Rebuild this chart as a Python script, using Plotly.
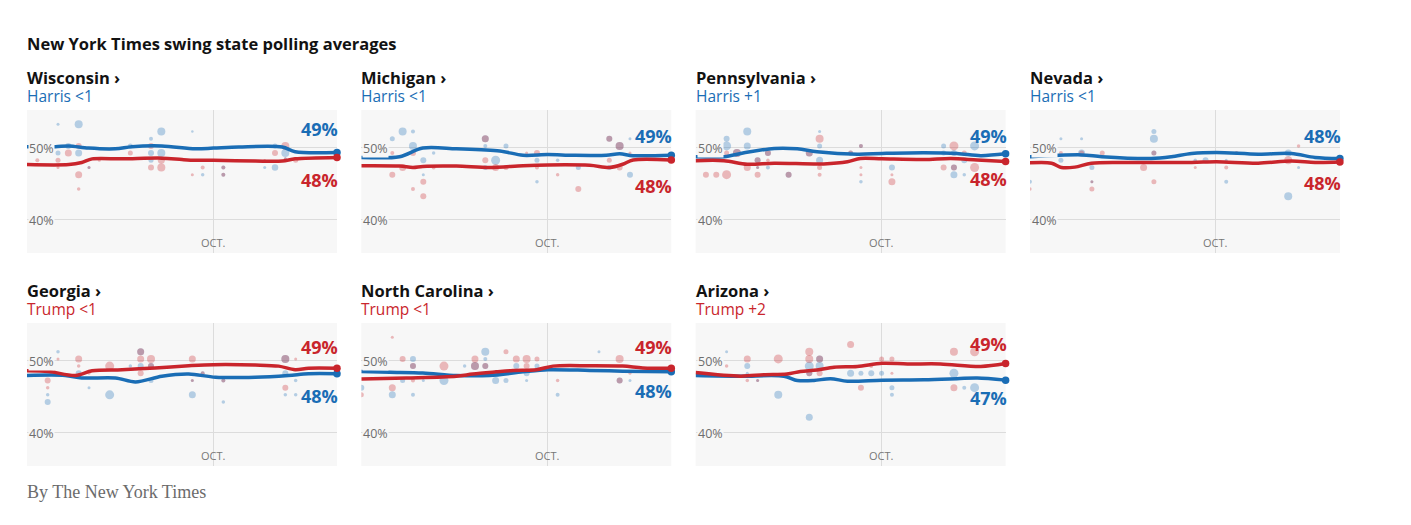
import pandas as pd
import plotly.graph_objects as go

# the page puts the figure 8px in from the corner, so work in screen pixels and shift
OFF = 8
W, H = 1411 - 2 * OFF, 525 - 2 * OFF
BLUE = "#1a6db5"
RED = "#c9252c"
BG = "#f7f7f7"
SANS = "'Open Sans', Roboto, Arial, sans-serif"

start = pd.Timestamp("2024-08-26")
oct1 = pd.Timestamp("2024-10-01")
end = pd.Timestamp("2024-10-25")

states = ["Wisconsin", "Michigan", "Pennsylvania", "Nevada",
          "Georgia", "North Carolina", "Arizona"]
leads = ["Harris &lt;1", "Harris &lt;1", "Harris +1", "Harris &lt;1",
         "Trump &lt;1", "Trump &lt;1", "Trump +2"]
leader = ["D", "D", "D", "D", "R", "R", "R"]
harris_final = ["49%", "49%", "49%", "48%", "48%", "48%", "47%"]
trump_final = ["48%", "48%", "48%", "48%", "49%", "49%", "49%"]

# polling averages (days since Aug. 26, percent)
wi_h_day = [0, 5.5, 8.1, 11.9, 17.1, 20.3, 26.1, 32.6, 36.1, 41, 49.4, 51.9, 60]
wi_h = [50.1, 50.1, 50.2, 49.9, 49.8, 50.1, 50.2, 49.8, 49.9, 50.05, 50.05, 49.4, 49.3]
wi_t_day = [0, 8.1, 10.6, 12.6, 18.4, 26.1, 30, 32.6, 36.1, 44.2, 49.4, 51.9, 60]
wi_t = [47.6, 47.6, 47.9, 48.4, 48.4, 48.5, 48.3, 48.2, 48.2, 48.1, 48.1, 48.4, 48.6]

mi_h_day = [0, 7.4, 11.9, 18.4, 26.8, 31.3, 36.1, 41, 47.4, 50, 52.6, 60]
mi_h = [48.6, 48.7, 49.9, 49.8, 49.5, 48.9, 49.0, 48.9, 48.9, 49.1, 48.85, 48.9]
mi_t_day = [0, 7.4, 10, 11.9, 18.4, 24.8, 31.3, 36.1, 44.2, 48.1, 50.6, 52.6, 60]
mi_t = [47.45, 47.4, 47.2, 47.35, 47.4, 47.2, 47.45, 47.55, 47.5, 47.2, 47.65, 48.25, 48.25]

pa_h_day = [0, 5.5, 9.4, 15.2, 19.7, 23.5, 31.3, 36.1, 44.2, 50.6, 55.2, 60]
pa_h = [48.7, 48.7, 49.25, 49.85, 49.8, 49.4, 49.05, 49.15, 49.25, 49.15, 48.85, 49.1]
pa_t_day = [0, 5.5, 10, 15.2, 24.8, 29.4, 31.9, 36.1, 44.2, 49.4, 54.5, 60]
pa_t = [48.15, 48.15, 47.65, 47.8, 47.7, 48.0, 48.45, 48.4, 48.3, 48.45, 48.25, 48.05]

nv_h_day = [0, 10, 13.9, 23.5, 27.4, 31.3, 36.1, 44.2, 50.6, 55.2, 60]
nv_h = [48.7, 48.95, 48.7, 48.45, 48.7, 49.15, 49.3, 49.05, 49.15, 48.6, 48.45]
nv_t_day = [0, 4.2, 6.1, 8.7, 11.9, 18.4, 31.3, 36.1, 44.2, 50.6, 55.2, 60]
nv_t = [47.85, 47.8, 47.2, 47.25, 47.8, 47.9, 47.9, 48.0, 47.8, 48.1, 47.9, 47.95]

ga_h_day = [0, 7.4, 10.6, 17.1, 21, 26.1, 31.3, 36.5, 44.2, 50.6, 54.5, 60]
ga_h = [47.9, 47.9, 47.55, 47.55, 47.0, 47.8, 48.1, 47.65, 47.65, 47.9, 48.15, 48.15]
ga_t_day = [0, 4.2, 9.4, 12.6, 18.4, 24.8, 31.3, 36.1, 44.2, 48.7, 51.9, 54.5, 60]
ga_t = [48.55, 48.45, 47.9, 48.55, 48.7, 48.95, 49.25, 49.4, 49.35, 49.2, 48.7, 48.9, 48.9]

nc_h_day = [0, 5.5, 11.9, 18.4, 24.8, 31.3, 36.1, 44.2, 50.6, 60]
nc_h = [48.45, 48.35, 48.25, 47.9, 47.9, 48.4, 48.7, 48.6, 48.5, 48.4]
nc_t_day = [0, 8.7, 18.4, 21.6, 26.1, 29.4, 33.9, 37.1, 44.2, 50.6, 54.5, 60]
nc_t = [47.4, 47.55, 47.8, 48.1, 48.4, 48.6, 48.7, 49.2, 49.25, 49.2, 48.95, 48.9]

az_h_day = [0, 8.7, 17.1, 19.7, 22.9, 26.1, 29.4, 36.1, 44.2, 50.6, 54.5, 60]
az_h = [47.9, 47.8, 47.8, 47.2, 47.2, 47.45, 47.1, 47.25, 47.3, 47.45, 47.55, 47.25]
az_t_day = [0, 8.7, 13.2, 17.7, 20.3, 23.5, 26.8, 31.3, 36.1, 41, 47.4, 55.2, 60]
az_t = [48.3, 47.8, 48.0, 48.1, 48.45, 48.65, 49.05, 49.15, 49.6, 49.5, 49.5, 49.15, 49.55]

# individual polls (day, percent, weight)
wi_h_polls = [(6, 53.2, 3), (10, 53.2, 8), (8, 50.2, 6), (6, 49.2, 5), (10, 49.2, 7), (20, 50.2, 5),
              (24, 51.2, 4), (26, 52.2, 8), (24, 49.2, 6), (26, 49.2, 8), (24, 48.2, 5), (32, 52.2, 2.5),
              (34, 46.2, 3.5), (48, 50.2, 5), (50, 49.2, 8), (48, 47.2, 6.5), (46, 47.2, 3), (12, 47.2, 3),
              (38, 47.2, 4), (38, 46.2, 4), (50, 48.4, 3)]
wi_t_polls = [(2, 48.2, 4), (6, 48.2, 5), (6, 47.2, 3), (8, 49.2, 7), (10, 50.2, 6), (10, 46.2, 7),
              (10, 44.2, 3.5), (14, 48.2, 3), (20, 49.2, 5), (24, 50.2, 6), (24, 47.2, 6), (26, 48.2, 7),
              (26, 47.2, 8), (32, 46.2, 3), (34, 47.2, 4), (46, 48.2, 2.5), (48, 49.2, 6), (50, 50.2, 8),
              (52, 48.2, 5), (12, 47.2, 3), (38, 47.2, 4), (38, 46.2, 4), (50, 48.4, 3)]

mi_h_polls = [(6, 51.2, 5), (8, 52.2, 8), (10, 52.2, 4), (10, 50.2, 8), (12, 48.2, 6), (12, 46.2, 3),
              (14, 49.2, 3.5), (24, 50.2, 4), (24, 47.2, 5), (26, 48.2, 9), (28, 50.2, 5), (34, 48.2, 5),
              (34, 45.2, 3.5), (38, 48.2, 3.5), (42, 47.2, 5), (48, 47.2, 5), (52, 51.2, 3), (52, 46.2, 6),
              (50, 50.2, 8), (24, 51.2, 7), (48, 51.2, 6)]
mi_t_polls = [(6, 49.2, 4), (6, 46.2, 6), (8, 47.2, 7), (10, 49.2, 6), (10, 44.2, 4), (12, 45.2, 6),
              (12, 43.2, 6), (14, 47.2, 4), (24, 51.2, 7), (24, 48.2, 6), (26, 47.2, 7), (28, 47.2, 5),
              (32, 49.2, 3), (34, 49.2, 6), (34, 47.2, 4), (38, 46.2, 3.5), (42, 44.2, 6), (48, 51.2, 6),
              (48, 48.2, 5), (50, 50.2, 8), (50, 47.2, 6), (52, 49.2, 3)]

pa_h_polls = [(6, 51.2, 6), (6, 50.2, 9), (10, 52.2, 8), (10, 50.2, 7), (12, 48.2, 6), (14, 47.2, 4),
              (24, 52.2, 3), (24, 50.2, 5), (24, 48.2, 7), (30, 49.2, 5), (32, 50.2, 4), (32, 45.2, 3.5),
              (38, 47.2, 6), (48, 50.2, 5), (50, 46.2, 7), (52, 46.2, 3.5), (54, 50.2, 9), (48, 49.2, 5),
              (50, 49.2, 6), (52, 48.2, 6), (8, 49.2, 8), (14, 49.2, 6), (18, 46.2, 6), (22, 49.2, 7),
              (50, 47.2, 6), (12, 47.2, 3)]
pa_t_polls = [(2, 46.2, 6), (4, 46.2, 6), (6, 46.2, 9), (6, 49.2, 5), (8, 49.2, 8), (10, 47.2, 7),
              (12, 46.2, 6), (14, 49.2, 6), (14, 48.2, 3.5), (12, 47.2, 3), (18, 46.2, 6), (22, 49.2, 7),
              (24, 51.2, 8), (24, 47.2, 5), (24, 46.2, 4), (32, 47.2, 3), (32, 46.2, 3), (38, 45.2, 7),
              (38, 46.2, 3), (48, 47.2, 6), (50, 50.2, 9), (50, 47.2, 6), (52, 49.2, 5), (54, 47.2, 9),
              (12, 48.2, 6), (30, 49.2, 5), (32, 50.2, 4)]

nv_h_polls = [(0, 45.2, 4), (6, 51.2, 3), (6, 48.2, 5), (10, 51.2, 3), (10, 49.2, 7), (12, 47.2, 5),
              (24, 52.2, 5), (24, 51.2, 8), (24, 49.2, 5), (32, 48.2, 3.5), (34, 48.2, 6), (38, 48.2, 3),
              (38, 45.2, 4), (50, 49.2, 7), (50, 43.2, 8), (52, 47.2, 3), (40, 49.2, 3), (12, 45.2, 3)]
nv_t_polls = [(0, 44.2, 3.5), (6, 49.2, 4), (6, 47.2, 3), (10, 49.2, 5), (12, 45.2, 3), (12, 44.2, 5),
              (14, 49.2, 5), (22, 47.2, 7), (24, 45.2, 5), (32, 47.2, 3), (38, 47.2, 4), (40, 49.2, 4),
              (50, 48.2, 8), (52, 50.2, 3.5), (24, 49.2, 5)]

ga_h_polls = [(4, 45.2, 3.5), (4, 44.2, 6), (6, 51.2, 3.5), (10, 48.2, 6), (12, 46.2, 3), (16, 45.2, 9),
              (20, 49.2, 3.5), (22, 51.2, 7), (22, 49.2, 6), (24, 49.2, 6), (24, 47.2, 5), (32, 45.2, 7),
              (34, 48.2, 4), (38, 44.2, 3.5), (50, 50.2, 8), (50, 48.2, 6), (50, 45.2, 3.5), (52, 47.2, 3.5),
              (52, 45.2, 3.5), (32, 47.2, 3), (38, 47.2, 4)]
ga_t_polls = [(4, 47.2, 6), (4, 46.2, 3.5), (6, 50.2, 3), (10, 50.2, 7), (10, 49.2, 3.5), (12, 48.2, 3),
              (16, 49.2, 9), (22, 50.2, 7), (22, 48.2, 6), (24, 50.2, 8), (24, 49.2, 6), (32, 50.2, 7),
              (32, 47.2, 3), (34, 48.2, 4), (38, 47.2, 4), (50, 50.2, 8), (50, 46.2, 6), (52, 50.2, 3),
              (22, 51.2, 7)]

nc_h_polls = [(0, 46.2, 6), (6, 45.2, 7), (8, 47.2, 5), (10, 50.2, 6), (10, 45.2, 4), (12, 47.2, 3),
              (16, 47.2, 9), (20, 49.2, 3.5), (22, 49.2, 8), (24, 51.2, 8), (24, 50.2, 4), (24, 49.2, 6),
              (26, 47.2, 7), (28, 47.2, 5), (30, 49.2, 6), (32, 48.2, 6), (32, 47.2, 3), (34, 49.2, 5),
              (38, 45.2, 4), (46, 51.2, 3), (50, 47.2, 6), (52, 47.2, 3), (10, 49.2, 6)]
nc_t_polls = [(0, 45.2, 5), (6, 53.2, 3), (6, 46.2, 7), (8, 50.2, 6), (10, 49.2, 6), (10, 47.2, 4),
              (16, 49.2, 9), (22, 50.2, 7), (22, 49.2, 8), (24, 49.2, 6), (28, 51.2, 5), (30, 50.2, 7),
              (32, 50.2, 8), (32, 49.2, 6), (34, 50.2, 5), (38, 47.2, 3.5), (50, 50.2, 8), (50, 47.2, 6),
              (52, 48.2, 3)]

az_h_polls = [(6, 51.2, 3), (10, 49.2, 6), (10, 48.2, 3), (12, 47.2, 3), (16, 45.2, 8), (22, 49.2, 9),
              (22, 48.2, 6), (22, 42.1, 7), (24, 50.2, 7), (24, 49.2, 8), (30, 48.2, 7), (32, 48.2, 5),
              (34, 48.2, 6), (36, 48.2, 5), (38, 47.2, 3), (38, 46.2, 5), (38, 45.2, 4), (50, 48.2, 9),
              (52, 46.2, 4), (54, 46.2, 9)]
az_t_polls = [(6, 49.2, 3.5), (10, 50.2, 7), (10, 47.2, 3.5), (12, 47.2, 3), (16, 50.2, 9), (22, 51.2, 8),
              (22, 50.2, 8), (22, 48.2, 6), (24, 50.2, 7), (24, 48.2, 6), (30, 52.2, 7), (32, 46.2, 6),
              (34, 49.2, 4), (36, 50.2, 5), (38, 50.2, 5), (38, 48.2, 3), (50, 51.2, 8), (50, 46.2, 7),
              (54, 51.2, 9)]

harris_avg = [(wi_h_day, wi_h), (mi_h_day, mi_h), (pa_h_day, pa_h), (nv_h_day, nv_h),
              (ga_h_day, ga_h), (nc_h_day, nc_h), (az_h_day, az_h)]
trump_avg = [(wi_t_day, wi_t), (mi_t_day, mi_t), (pa_t_day, pa_t), (nv_t_day, nv_t),
             (ga_t_day, ga_t), (nc_t_day, nc_t), (az_t_day, az_t)]
harris_polls = [wi_h_polls, mi_h_polls, pa_h_polls, nv_h_polls, ga_h_polls, nc_h_polls, az_h_polls]
trump_polls = [wi_t_polls, mi_t_polls, pa_t_polls, nv_t_polls, ga_t_polls, nc_t_polls, az_t_polls]

# where the end labels sit (upper label, lower label)
label_hi = [52.6, 51.6, 51.6, 51.6, 51.9, 51.8, 52.3]
label_lo = [45.5, 44.6, 45.6, 45.1, 45.1, 45.8, 44.8]


def dates(days):
    return [start + pd.Timedelta(days=float(d)) for d in days]


def px(x):
    return (x - OFF) / W


def py(y):
    return 1 - (y - OFF) / H


fig = go.Figure()
annotations = []
axes = {}

for i, st in enumerate(states):
    n = i + 1
    xa = "x" if n == 1 else "x%d" % n
    ya = "y" if n == 1 else "y%d" % n
    row, col = divmod(i, 4)
    left = 27 + 334.3 * col
    top = [110, 323][row]
    bot = [253, 466][row]

    axes["xaxis" if n == 1 else "xaxis%d" % n] = dict(
        domain=[px(left), px(left + 310)], range=[start, end], anchor=ya, tickvals=[oct1],
        showgrid=True, gridcolor="#dcdcdc", gridwidth=1, showticklabels=False,
        zeroline=False, showline=False, ticks="", fixedrange=True)
    axes["yaxis" if n == 1 else "yaxis%d" % n] = dict(
        domain=[py(bot), py(top)], range=[35.3, 55.2], anchor=xa,
        tickvals=[40, 50], showgrid=True, gridcolor="#dcdcdc", gridwidth=1,
        showticklabels=False, zeroline=False, showline=False, ticks="", fixedrange=True)

    for polls, c in ((harris_polls[i], BLUE), (trump_polls[i], RED)):
        fig.add_trace(go.Scatter(
            x=dates([p[0] for p in polls]), y=[p[1] for p in polls], mode="markers",
            marker=dict(size=[p[2] for p in polls], color=c, opacity=0.3, line_width=0),
            xaxis=xa, yaxis=ya, hoverinfo="skip", showlegend=False))

    for (days, vals), c in ((harris_avg[i], BLUE), (trump_avg[i], RED)):
        fig.add_trace(go.Scatter(
            x=dates(days), y=vals, mode="lines",
            line=dict(color=c, width=3.5, shape="spline", smoothing=0.9),
            xaxis=xa, yaxis=ya, hoverinfo="skip", showlegend=False))
        fig.add_trace(go.Scatter(
            x=dates(days[-1:]), y=vals[-1:], mode="markers",
            marker=dict(size=7.5, color=c), cliponaxis=False,
            xaxis=xa, yaxis=ya, hoverinfo="skip", showlegend=False))

    # state name and leader, two lines in one block
    mid_y = [86.5, 299.5][row]
    lead_col = BLUE if leader[i] == "D" else RED
    annotations.append(dict(
        text=("<span style='font-size:16.5px'><b>%s ›</b></span><br>"
              "<span style='font-size:15.5px;color:%s'>%s</span>") % (st, lead_col, leads[i]),
        x=px(left), y=py(mid_y), xref="paper", yref="paper", xshift=-2,
        xanchor="left", yanchor="middle", align="left", showarrow=False,
        font=dict(family=SANS, size=14, color="#121212")))

    # axis labels inside the panel
    for v in (50, 40):
        annotations.append(dict(
            text="%d%%" % v, x=0, xref=xa + " domain", y=v, yref=ya,
            xanchor="left", yanchor="middle", xshift=1, yshift=-1, showarrow=False,
            bgcolor=BG, borderpad=0,
            font=dict(family=SANS, size=12.5, color="#6e6e6e")))
    annotations.append(dict(
        text="OCT.", x=oct1, xref=xa, y=0, yref=ya + " domain",
        xanchor="center", yanchor="bottom", yshift=1, showarrow=False,
        font=dict(family=SANS, size=11, color="#777777")))

    # end labels
    if leader[i] == "D":
        hi, lo = (harris_final[i], BLUE), (trump_final[i], RED)
    else:
        hi, lo = (trump_final[i], RED), (harris_final[i], BLUE)
    for (txt, c), yv in ((hi, label_hi[i]), (lo, label_lo[i])):
        annotations.append(dict(
            text="<b>%s</b>" % txt, x=1, xref=xa + " domain", y=yv, yref=ya,
            xanchor="right", yanchor="middle", xshift=3, showarrow=False,
            font=dict(family=SANS, size=18, color=c)))

annotations.append(dict(
    text="<b>New York Times swing state polling averages</b>", x=px(27), y=py(43),
    xref="paper", yref="paper", xanchor="left", yanchor="middle", xshift=-2, showarrow=False,
    font=dict(family=SANS, size=16.5, color="#121212")))
annotations.append(dict(
    text="By The New York Times", x=px(27), y=py(492),
    xref="paper", yref="paper", xanchor="left", yanchor="middle", xshift=-2, showarrow=False,
    font=dict(family="Georgia, 'Liberation Serif', serif", size=18, color="#6b6b6b")))

fig.update_layout(
    width=W, height=H, margin=dict(l=0, r=0, t=0, b=0),
    paper_bgcolor="white", plot_bgcolor=BG,
    annotations=annotations, showlegend=False, **axes)

fig.write_html("out.html")
